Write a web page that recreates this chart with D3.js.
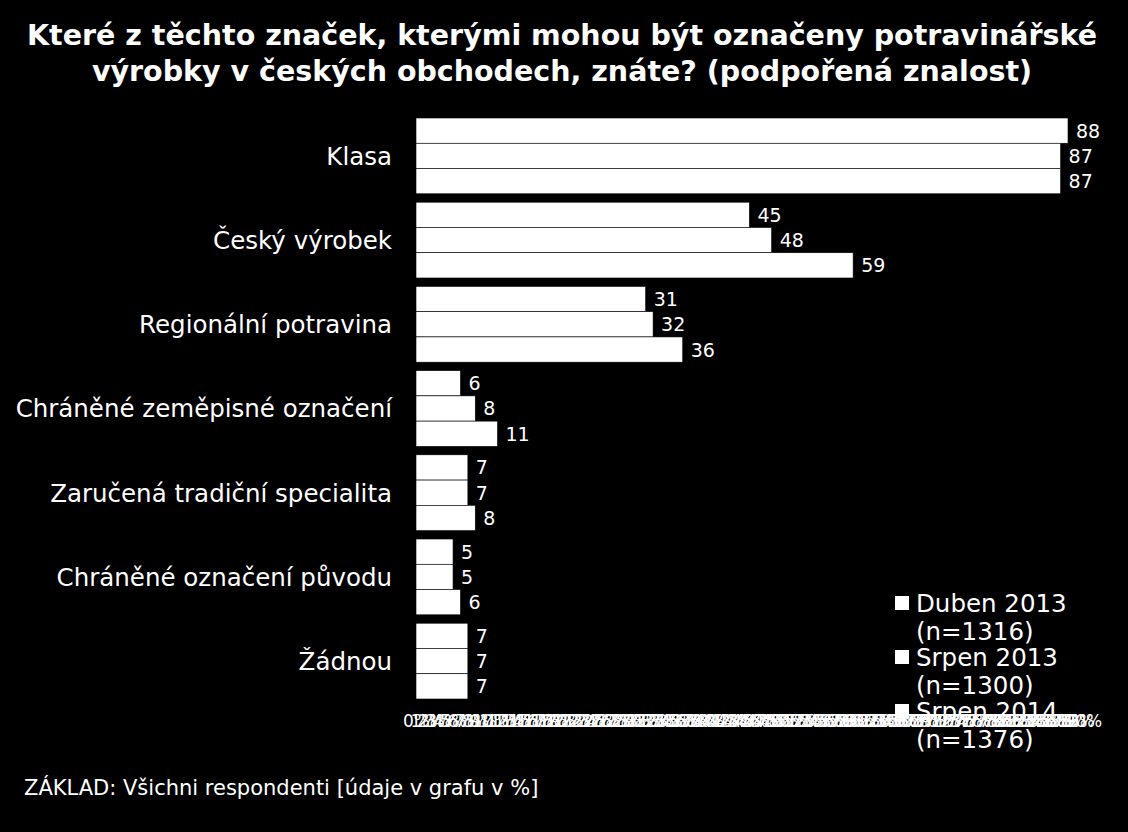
<!DOCTYPE html>
<html><head><meta charset="utf-8">
<script src="https://cdn.jsdelivr.net/npm/d3@7"></script>
<style>body{margin:0;background:#000}svg{display:block;font-family:"DejaVu Sans",sans-serif}</style>
</head><body><svg id="c" width="1128" height="832"></svg>
<script>
var categories = ["Klasa", "Český výrobek", "Regionální potravina", "Chráněné zeměpisné označení", "Zaručená tradiční specialita", "Chráněné označení původu", "Žádnou"];
var duben2013 = [88, 45, 31, 6, 7, 5, 7];
var srpen2013 = [87, 48, 32, 8, 7, 5, 7];
var srpen2014 = [87, 59, 36, 11, 8, 6, 7];
var seriesNames = [["Duben 2013", "(n=1316)"], ["Srpen 2013", "(n=1300)"], ["Srpen 2014", "(n=1376)"]];
var series = [duben2013, srpen2013, srpen2014];

var svg = d3.select("#c");
svg.append("rect").attr("width", 1128).attr("height", 832).attr("fill", "#000");

var title = ["Které z těchto značek, kterými mohou být označeny potravinářské", "výrobky v českých obchodech, znáte? (podpořená znalost)"];
svg.selectAll(".t").data(title).enter().append("text")
    .attr("x", 562).attr("y", function (d, i) { return 45 + i * 36; })
    .attr("text-anchor", "middle").attr("fill", "#fff")
    .attr("font-size", 28.5).attr("font-weight", "bold").text(function (d) { return d; });

var x = d3.scaleLinear().domain([0, 88]).range([416, 1068]);
var y = d3.scaleBand().domain(categories).range([118, 699]).paddingInner(0.1).paddingOuter(0);
var yi = d3.scaleBand().domain([0, 1, 2]).range([0, y.bandwidth()]);

var g = svg.selectAll(".grp").data(categories).enter().append("g")
    .attr("transform", function (d) { return "translate(0," + y(d) + ")"; });

g.append("text").attr("x", 392).attr("y", y.bandwidth() / 2 + 9)
    .attr("text-anchor", "end").attr("fill", "#fff").attr("font-size", 24.5)
    .text(function (d) { return d; });

series.forEach(function (s, si) {
    g.append("rect").attr("x", x(0)).attr("y", yi(si))
        .attr("width", function (d, i) { return x(s[i]) - x(0); })
        .attr("height", yi.bandwidth())
        .attr("fill", "#fff").attr("stroke", "#000").attr("stroke-width", 0.6);
    g.append("text").attr("x", function (d, i) { return x(s[i]) + 8; })
        .attr("y", yi(si) + yi.bandwidth() / 2 + 7)
        .attr("fill", "#fff").attr("font-size", 19)
        .text(function (d, i) { return s[i]; });
});

// axis with crowded 1% ticks, as in the original
var ax = svg.append("g").attr("transform", "translate(0,712)")
    .call(d3.axisBottom(x).tickValues(d3.range(0, 91, 1)).tickSize(0).tickFormat(function (d) { return d + "%"; }));
ax.select(".domain").remove();
ax.selectAll("text").attr("fill", "#fff").attr("font-size", 17).attr("font-family", "DejaVu Sans");

var lg = svg.selectAll(".lg").data(seriesNames).enter().append("g")
    .attr("transform", function (d, i) { return "translate(895," + (602 + i * 54) + ")"; });
lg.append("rect").attr("x", 0).attr("y", -6).attr("width", 14).attr("height", 14).attr("fill", "#fff");
lg.append("text").attr("x", 21).attr("y", 10).attr("fill", "#fff").attr("font-size", 24.5).text(function (d) { return d[0]; });
lg.append("text").attr("x", 21).attr("y", 38).attr("fill", "#fff").attr("font-size", 24.5).text(function (d) { return d[1]; });

svg.append("text").attr("x", 24).attr("y", 795).attr("fill", "#fff").attr("font-size", 21)
    .text("ZÁKLAD: Všichni respondenti [údaje v grafu v %]");
</script></body></html>
